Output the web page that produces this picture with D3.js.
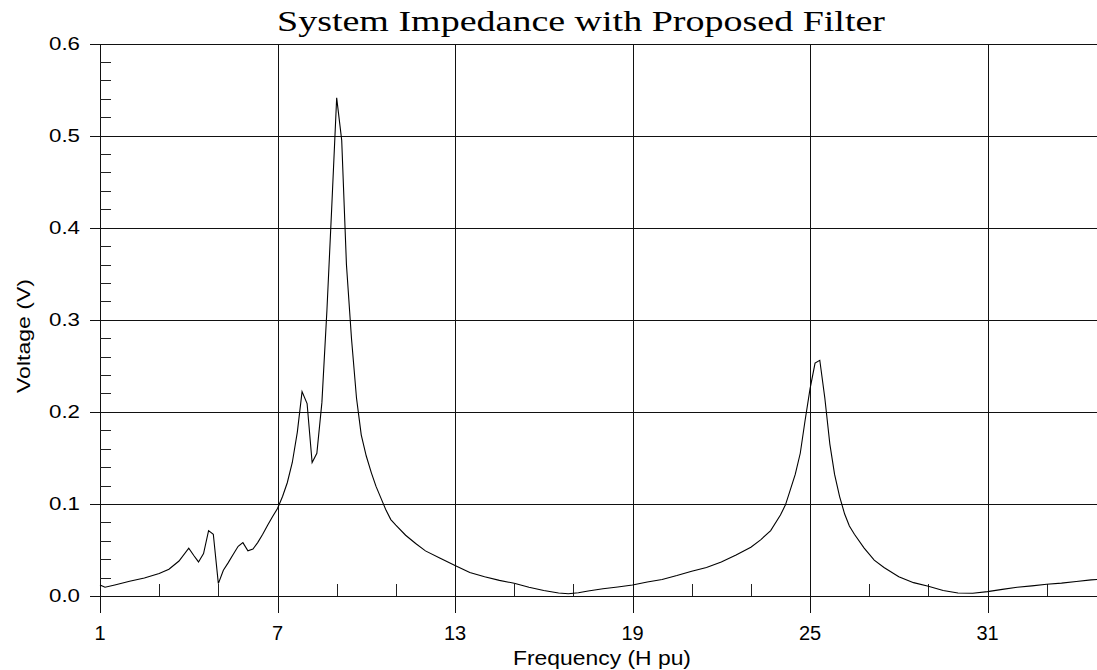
<!DOCTYPE html>
<meta charset="utf-8">
<style>
body { margin: 0; background: #fff; }
.grid line { stroke: #111; stroke-width: 1.3px; shape-rendering: crispEdges; }
.minor line { stroke: #222; stroke-width: 1.2px; shape-rendering: crispEdges; }
.curve { fill: none; stroke: #000; stroke-width: 1.1px; }
text { font-family: "Liberation Sans", Arial, sans-serif; fill: #000; }
.title { font-family: "Liberation Serif", "Times New Roman", serif; }
</style>
<svg width="1097" height="670"></svg>
<script src="https://d3js.org/d3.v7.min.js"></script>
<script>

// harmonic order (H pu) and voltage
var freq = [1.0, 1.17, 1.5, 2.0, 2.5, 3.0, 3.33, 3.67, 4.0, 4.17, 4.33, 4.5, 4.67, 4.83,
  5.0, 5.17, 5.33, 5.5, 5.67, 5.83, 6.0, 6.17, 6.33, 6.5, 6.67, 6.83, 7.0, 7.17, 7.33,
  7.5, 7.67, 7.83, 8.0, 8.17, 8.33, 8.5, 8.67, 8.83, 9.0, 9.17, 9.33, 9.5, 9.67, 9.83,
  10.0, 10.17, 10.33, 10.5, 10.67, 10.83, 11.0, 11.33, 11.67, 12.0, 12.5, 13.0, 13.5,
  14.0, 14.5, 15.0, 15.5, 16.0, 16.5, 16.83, 17.17, 17.5, 18.0, 18.5, 19.0, 19.5, 20.0,
  20.5, 21.0, 21.5, 22.0, 22.5, 23.0, 23.33, 23.67, 24.0, 24.17, 24.33, 24.5, 24.67,
  24.83, 25.0, 25.17, 25.33, 25.5, 25.67, 25.83, 26.0, 26.17, 26.33, 26.5, 26.83, 27.17,
  27.5, 28.0, 28.5, 29.0, 29.5, 30.0, 30.5, 31.0, 31.5, 32.0, 32.5, 33.0, 33.5, 34.0,
  34.5, 34.7];

var voltage = [0.012, 0.0095, 0.012, 0.016, 0.0195, 0.0245, 0.029, 0.038, 0.052, 0.044,
  0.037, 0.046, 0.071, 0.067, 0.0135, 0.028, 0.036, 0.045, 0.054, 0.058, 0.049, 0.051,
  0.058, 0.067, 0.077, 0.086, 0.095, 0.108, 0.123, 0.145, 0.178, 0.222, 0.209, 0.145,
  0.155, 0.21, 0.31, 0.42, 0.541, 0.495, 0.36, 0.28, 0.215, 0.175, 0.152, 0.134, 0.119,
  0.106, 0.093, 0.083, 0.077, 0.066, 0.057, 0.049, 0.041, 0.033, 0.0255, 0.021, 0.017,
  0.0138, 0.0095, 0.006, 0.0032, 0.0025, 0.0035, 0.0055, 0.0078, 0.0098, 0.012, 0.0152,
  0.018, 0.0222, 0.0268, 0.031, 0.037, 0.0445, 0.053, 0.061, 0.071, 0.088, 0.099, 0.115,
  0.132, 0.155, 0.19, 0.225, 0.253, 0.256, 0.215, 0.165, 0.132, 0.108, 0.089, 0.076,
  0.067, 0.052, 0.039, 0.031, 0.021, 0.0145, 0.0105, 0.006, 0.0032, 0.003, 0.0048,
  0.0072, 0.0095, 0.011, 0.0128, 0.014, 0.0158, 0.0175, 0.018];

var xMajor = [1, 7, 13, 19, 25, 31];
var xMinor = [3, 5, 9, 11, 15, 17, 21, 23, 27, 29, 33];
var yMajor = [0, 0.1, 0.2, 0.3, 0.4, 0.5, 0.6];
var yMinor = d3.range(1, 30).filter(function(i) { return i % 5 != 0; })
    .map(function(i) { return i * 0.02; });

var svg = d3.select("svg"),
    width = +svg.attr("width"),
    height = +svg.attr("height");

var x = d3.scaleLinear().domain([1, 34.7]).range([100, 1097]);
var y = d3.scaleLinear().domain([0, 0.6]).range([596, 43.5]);

// horizontal grid / y major ticks
var grid = svg.append("g").attr("class", "grid");
grid.selectAll(".h")
  .data(yMajor)
  .enter().append("line")
    .attr("x1", 90)
    .attr("x2", width)
    .attr("y1", function(d) { return Math.round(y(d)) + 0.5; })
    .attr("y2", function(d) { return Math.round(y(d)) + 0.5; });

// vertical grid / x major ticks
grid.selectAll(".v")
  .data(xMajor)
  .enter().append("line")
    .attr("x1", function(d) { return Math.round(x(d)) + 0.5; })
    .attr("x2", function(d) { return Math.round(x(d)) + 0.5; })
    .attr("y1", y(0.6))
    .attr("y2", 613);

var minor = svg.append("g").attr("class", "minor");
minor.selectAll(".mx")
  .data(xMinor)
  .enter().append("line")
    .attr("x1", function(d) { return Math.round(x(d)) + 0.5; })
    .attr("x2", function(d) { return Math.round(x(d)) + 0.5; })
    .attr("y1", y(0))
    .attr("y2", y(0) - 12);

minor.selectAll(".my")
  .data(yMinor)
  .enter().append("line")
    .attr("x1", 100)
    .attr("x2", 111)
    .attr("y1", function(d) { return Math.round(y(d)) + 0.5; })
    .attr("y2", function(d) { return Math.round(y(d)) + 0.5; });

// tick labels
svg.append("g").selectAll("text")
  .data(yMajor)
  .enter().append("text")
    .attr("x", 80)
    .attr("y", function(d) { return y(d); })
    .attr("dy", "0.36em")
    .attr("text-anchor", "end")
    .attr("font-size", 18)
    .attr("textLength", 31)
    .attr("lengthAdjust", "spacingAndGlyphs")
    .text(function(d) { return d.toFixed(1); });

svg.append("g").selectAll("text")
  .data(xMajor)
  .enter().append("text")
    .attr("x", function(d) { return x(d); })
    .attr("y", 640)
    .attr("text-anchor", "middle")
    .attr("font-size", 20)
    .text(function(d) { return d; });

// the curve
var line = d3.line()
    .x(function(d, i) { return x(freq[i]); })
    .y(function(d) { return y(d); });

svg.append("path")
    .datum(voltage)
    .attr("class", "curve")
    .attr("d", line);

// titles
svg.append("text")
    .attr("class", "title")
    .attr("x", 581)
    .attr("y", 31)
    .attr("text-anchor", "middle")
    .attr("font-size", 30)
    .attr("textLength", 608)
    .attr("lengthAdjust", "spacingAndGlyphs")
    .text("System Impedance with Proposed Filter");

svg.append("text")
    .attr("x", 602)
    .attr("y", 665)
    .attr("text-anchor", "middle")
    .attr("font-size", 21)
    .attr("textLength", 178)
    .attr("lengthAdjust", "spacingAndGlyphs")
    .text("Frequency (H pu)");

svg.append("text")
    .attr("transform", "translate(30,336) rotate(-90)")
    .attr("text-anchor", "middle")
    .attr("font-size", 19)
    .attr("textLength", 114)
    .attr("lengthAdjust", "spacingAndGlyphs")
    .text("Voltage (V)");

</script>
